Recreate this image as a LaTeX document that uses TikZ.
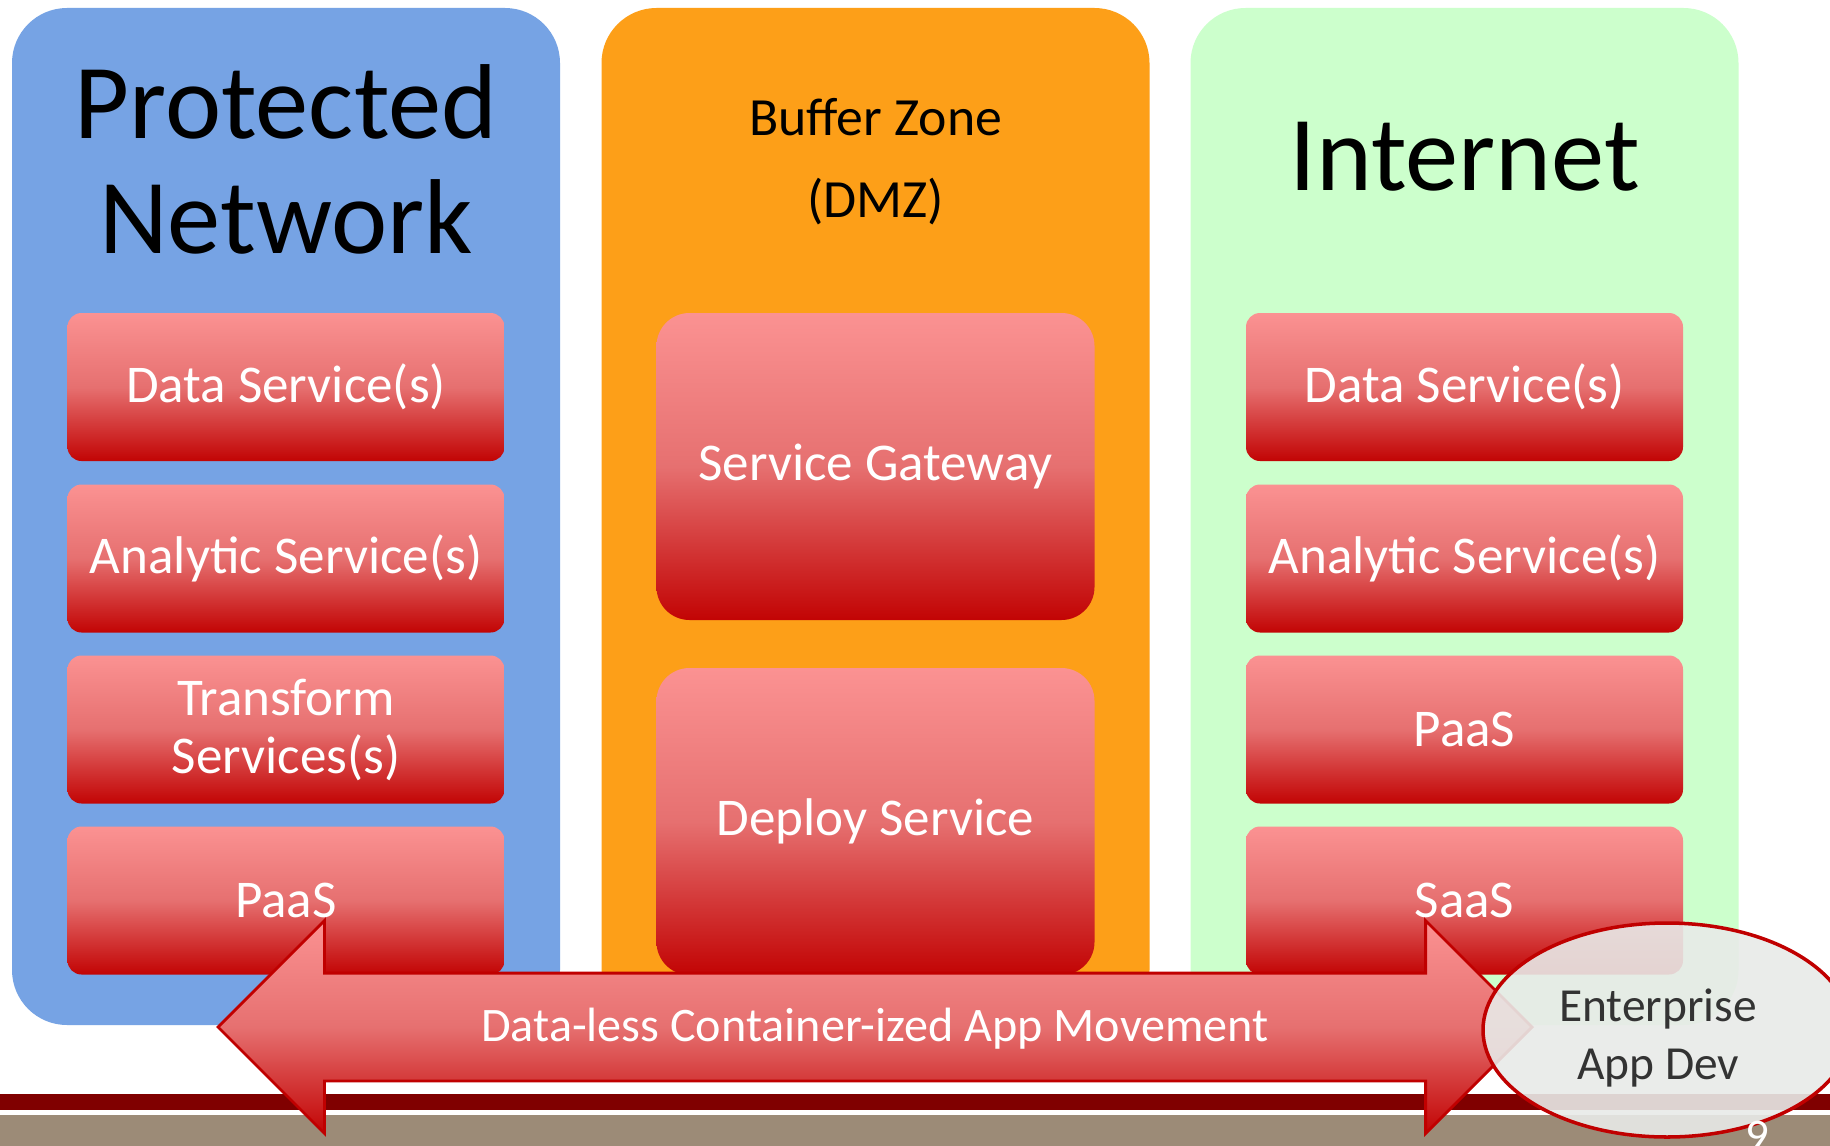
\documentclass[tikz,border=0pt]{standalone}
\usepackage{fontspec}
\setmainfont{Carlito}
\usepackage{xcolor}
\usetikzlibrary{shapes.geometric,shapes.arrows,positioning}

\definecolor{zoneblue}{RGB}{118,163,228}
\definecolor{zoneorange}{RGB}{253,159,24}
\definecolor{zonegreen}{RGB}{204,255,204}
\definecolor{svctop}{RGB}{251,146,146}
\definecolor{svcmid}{RGB}{230,112,112}
\definecolor{svcbottom}{RGB}{194,4,4}
\definecolor{svcline}{RGB}{192,0,0}
\definecolor{barred}{RGB}{128,0,0}
\definecolor{bartan}{RGB}{156,139,119}
\definecolor{devgray}{RGB}{232,234,232}

\begin{document}
\begin{tikzpicture}[
        zone/.style={rectangle, rounded corners=0.55cm, minimum width=5.48cm, minimum height=10.17cm, inner sep=0pt},
        title/.style={align=center, font=\fontsize{30.3}{32.7}\selectfont, text=black},
        subtitle/.style={align=center, font=\fontsize{15.3}{23.3}\selectfont, text=black},
        svc/.style={rectangle, rounded corners=0.14cm, minimum width=4.37cm, minimum height=1.48cm, inner sep=0pt,
                    top color=svctop, bottom color=svcbottom, middle color=svcmid,
                    text=white, align=center, font=\fontsize{15.1}{16.5}\selectfont},
        bigsvc/.style={svc, rounded corners=0.33cm, minimum width=4.38cm, minimum height=3.07cm},
        moveArrow/.style={double arrow, double arrow head extend=0.525cm, double arrow tip angle=90,
                    minimum width=2.1cm, minimum height=13.14cm, text height=0.34cm, text depth=0.06cm, inner ysep=0.325cm,
                    draw=svcline, line width=0.8pt, top color=svctop, bottom color=svcbottom, middle color=svcmid,
                    text=white, font=\fontsize{13.7}{16}\selectfont},
        devbubble/.style={ellipse, minimum width=3.68cm, minimum height=2.14cm, draw=svcline, line width=1pt,
                    fill=devgray, fill opacity=0.9},
        devtext/.style={text={black!80}, align=center, font=\fontsize{13.5}{16.5}\selectfont},
      ]
      \clip (0,0) rectangle (18.30,-11.46);
      \fill[white] (0,0) rectangle (18.30,-11.46);

      % Network zones
      \node [zone, fill=zoneblue] (protected) at (2.86, -5.165) {};
      \node [zone, fill=zoneorange] (buffer) at (8.755, -5.165) {};
      \node [zone, fill=zonegreen] (internet) at (14.645, -5.165) {};

      \node [title] (protTitle) at (2.86, -1.59) {Protected\\Network};
      \node [subtitle] (bufTitle) at (8.755, -1.62) {Buffer Zone\\(DMZ)};
      \node [title] (netTitle) at (14.645, -1.57) {Internet};

      % Protected network services
      \node [svc] (pData) at (2.86, -3.87) {Data Service(s)};
      \node [svc] (pAnalytic) at (2.86, -5.585) {Analytic Service(s)};
      \node [svc] (pTransform) at (2.86, -7.295) {Transform\\Services(s)};
      \node [svc] (pPaas) at (2.86, -9.005) {PaaS};

      % DMZ services
      \node [bigsvc] (gateway) at (8.755, -4.665) {Service Gateway};
      \node [bigsvc] (deploy) at (8.755, -8.215) {Deploy Service};

      % Internet services
      \node [svc] (iData) at (14.645, -3.87) {Data Service(s)};
      \node [svc] (iAnalytic) at (14.645, -5.585) {Analytic Service(s)};
      \node [svc] (iPaas) at (14.645, -7.295) {PaaS};
      \node [svc] (iSaas) at (14.645, -9.005) {SaaS};

      % footer bars
      \fill[barred] (0,-10.94) rectangle (18.30,-11.10);
      \fill[bartan] (0,-11.15) rectangle (18.30,-11.50);

      % app movement across the zones
      \node [moveArrow] (movement) at (8.75, -10.27) {Data-less Container-ized App Movement};

      \node [devbubble] (appDev) at (16.67, -10.30) {};
      \node [devtext] (appDevText) at ([xshift=-0.09cm, yshift=-0.08cm]appDev.center) {Enterprise\\App Dev};
      \node [text=white, font=\fontsize{13.3}{16}\selectfont] (pageNo) at (17.57, -11.36) {9};
    \end{tikzpicture}
\end{document}
